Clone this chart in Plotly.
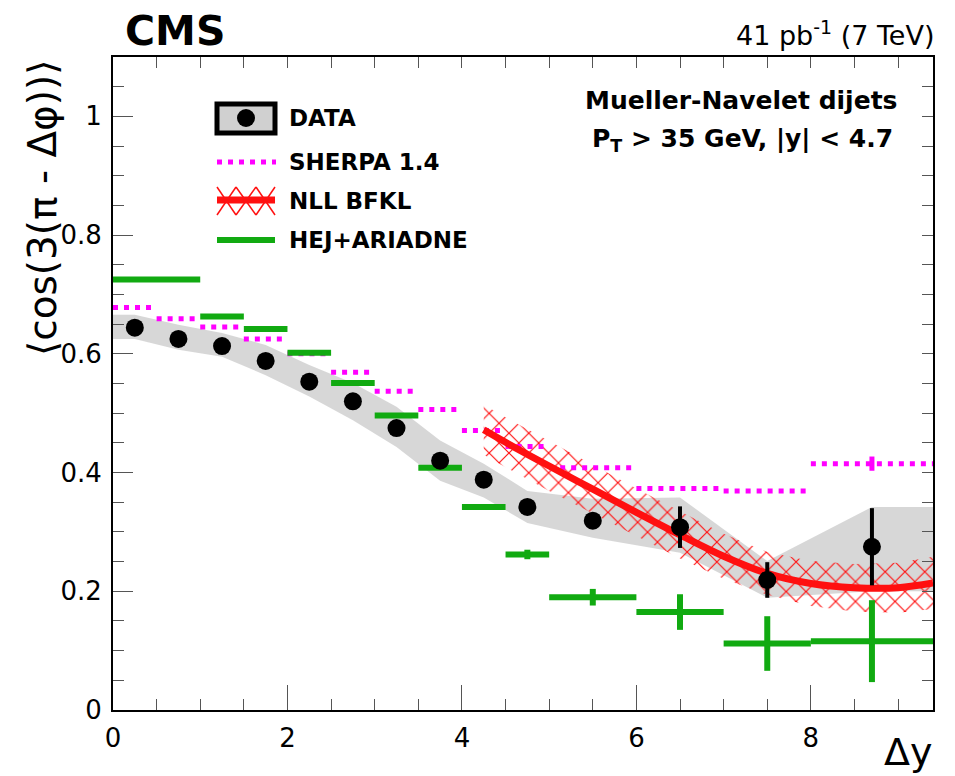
import plotly.graph_objects as go

# ---------------- data ----------------
bin_lo = [0, 0.5, 1, 1.5, 2, 2.5, 3, 3.5, 4, 4.5, 5, 6, 7, 8]
bin_hi = [0.5, 1, 1.5, 2, 2.5, 3, 3.5, 4, 4.5, 5, 6, 7, 8, 9.4]
data_x = [0.25, 0.75, 1.25, 1.75, 2.25, 2.75, 3.25, 3.75, 4.25, 4.75, 5.5, 6.5, 7.5, 8.7]
data_y = [0.644, 0.625, 0.613, 0.588, 0.553, 0.520, 0.475, 0.420, 0.388, 0.342, 0.319, 0.308, 0.219, 0.275]
data_stat = [0.004, 0.004, 0.004, 0.004, 0.004, 0.005, 0.005, 0.006, 0.007, 0.008, 0.010, 0.035, 0.030, 0.065]
data_sys_hi = [0.666, 0.649, 0.635, 0.615, 0.581, 0.551, 0.511, 0.454, 0.415, 0.369, 0.356, 0.358, 0.251, 0.342]
data_sys_lo = [0.625, 0.607, 0.595, 0.564, 0.528, 0.488, 0.443, 0.386, 0.358, 0.315, 0.290, 0.265, 0.189, 0.200]

sherpa_y = [0.678, 0.659, 0.645, 0.625, 0.600, 0.569, 0.537, 0.506, 0.471, 0.444, 0.408, 0.373, 0.369, 0.415]
sherpa_err = [0, 0, 0, 0, 0, 0, 0, 0, 0, 0, 0, 0, 0, 0.012]

hej_lo = [0, 1, 1.5, 2, 2.5, 3, 3.5, 4, 4.5, 5, 6, 7, 8]
hej_hi = [1, 1.5, 2, 2.5, 3, 3.5, 4, 4.5, 5, 6, 7, 8, 9.4]
hej_y = [0.725, 0.663, 0.642, 0.602, 0.551, 0.496, 0.408, 0.342, 0.262, 0.190, 0.165, 0.112, 0.116]
hej_err = [0, 0, 0, 0, 0, 0, 0, 0, 0.008, 0.014, 0.030, 0.046, 0.069]

nll_x = [4.25, 4.5, 5, 5.5, 6, 6.5, 7, 7.5, 8, 8.5, 9, 9.4]
nll_y = [0.472, 0.451, 0.411, 0.372, 0.333, 0.295, 0.259, 0.230, 0.213, 0.206, 0.206, 0.214]
nll_err = [0.042, 0.042, 0.042, 0.041, 0.040, 0.040, 0.038, 0.036, 0.038, 0.040, 0.042, 0.044]

x_range = [0, 9.4]
y_range = [0, 1.1]

FONT = "DejaVu Sans"
MAG = "#ff00ff"
GRN = "#11aa11"
RED = "#ff1010"

fig = go.Figure()

# ---- DATA systematic band (gray) ----
band_x = [bin_lo[0]] + data_x + [bin_hi[-1]]
band_hi = [data_sys_hi[0]] + data_sys_hi + [data_sys_hi[-1]]
band_lo = [data_sys_lo[0]] + data_sys_lo + [data_sys_lo[-1]]
fig.add_trace(go.Scatter(
    x=band_x + band_x[::-1], y=band_hi + band_lo[::-1],
    fill="toself", fillcolor="rgba(208,208,208,0.85)",
    line=dict(width=0), mode="lines", hoverinfo="skip", showlegend=False))

# ---- NLL BFKL hatched band ----
fig.add_trace(go.Scatter(
    x=nll_x + nll_x[::-1],
    y=[v + e for v, e in zip(nll_y, nll_err)] + [v - e for v, e in zip(nll_y, nll_err)][::-1],
    fill="toself", fillcolor=RED, mode="lines", line=dict(width=0),
    fillpattern=dict(shape="x", fgcolor=RED, bgcolor="rgba(0,0,0,0)", fgopacity=1,
                     fillmode="replace", size=14, solidity=0.16),
    hoverinfo="skip", showlegend=False))

# ---- SHERPA (dotted horizontal per bin) ----
sx, sy = [], []
for lo, hi, v in zip(bin_lo, bin_hi, sherpa_y):
    sx += [lo, hi, None]
    sy += [v, v, None]
fig.add_trace(go.Scatter(x=sx, y=sy, mode="lines",
                         line=dict(color=MAG, width=5, dash="5px,6px"),
                         hoverinfo="skip", showlegend=False))
fig.add_trace(go.Scatter(
    x=[(lo + hi) / 2 for lo, hi in zip(bin_lo, bin_hi)], y=sherpa_y, mode="markers",
    marker=dict(size=1, color="rgba(0,0,0,0)"),
    error_y=dict(type="data", array=sherpa_err, color=MAG, thickness=5, width=0),
    hoverinfo="skip", showlegend=False))

# ---- NLL BFKL central line ----
fig.add_trace(go.Scatter(x=nll_x, y=nll_y, mode="lines", line=dict(color=RED, width=7, shape="spline"),
                         hoverinfo="skip", showlegend=False))

# ---- HEJ+ARIADNE ----
fig.add_trace(go.Scatter(
    x=[(lo + hi) / 2 for lo, hi in zip(hej_lo, hej_hi)], y=hej_y, mode="markers",
    marker=dict(size=1, color="rgba(0,0,0,0)"),
    error_x=dict(type="data", array=[(hi - lo) / 2 for lo, hi in zip(hej_lo, hej_hi)],
                 color=GRN, thickness=6, width=0),
    error_y=dict(type="data", array=hej_err, color=GRN, thickness=6, width=0),
    hoverinfo="skip", showlegend=False))

# ---- DATA points ----
fig.add_trace(go.Scatter(
    x=data_x, y=data_y, mode="markers",
    marker=dict(size=18, color="black"),
    error_y=dict(type="data", array=data_stat, color="black", thickness=4, width=0),
    hoverinfo="skip", showlegend=False))

# empty traces so the mirrored tick axes are drawn
fig.add_trace(go.Scatter(x=[], y=[], xaxis="x2", yaxis="y", showlegend=False))
fig.add_trace(go.Scatter(x=[], y=[], xaxis="x", yaxis="y2", showlegend=False))

# ---------------- layout ----------------
OFF = 8                      # page body margin of the html page
FW, FH = 955 - OFF, 776 - OFF
L, R, T, B = 113, 933, 57, 710   # plot frame in page pixels
W, H = R - L, B - T


def px(xp):
    return (xp - L) / W


def py(yp):
    return (B - yp) / H


tickfont = dict(family=FONT, size=26, color="black")
fig.update_layout(
    width=FW, height=FH,
    margin=dict(l=L - OFF, r=FW - (R - OFF), t=T - OFF, b=FH - (B - OFF), pad=0, autoexpand=False),
    paper_bgcolor="white", plot_bgcolor="white",
    showlegend=False,
    xaxis=dict(range=x_range, dtick=2, tick0=0, ticks="inside", ticklen=25, tickwidth=1, tickcolor="#555",
               minor=dict(dtick=0.5, tick0=0, ticks="inside", ticklen=11, tickwidth=1, tickcolor="#555"),
               showline=True, linecolor="black", linewidth=2, mirror=True,
               showgrid=False, zeroline=False, tickfont=tickfont, ticklabelstandoff=4),
    xaxis2=dict(range=x_range, overlaying="x", side="top", anchor="y", dtick=0.5, tick0=0,
                ticks="inside", ticklen=11, tickwidth=1, tickcolor="#555",
                showticklabels=False, showgrid=False, zeroline=False, showline=False),
    yaxis=dict(range=y_range, dtick=0.2, tick0=0, ticks="inside", ticklen=20, tickwidth=1, tickcolor="#555",
               minor=dict(dtick=0.05, tick0=0, ticks="inside", ticklen=11, tickwidth=1, tickcolor="#555"),
               showline=True, linecolor="black", linewidth=2, mirror=True,
               showgrid=False, zeroline=False, tickfont=tickfont, ticklabelstandoff=4),
    yaxis2=dict(range=y_range, overlaying="y", side="right", anchor="x", dtick=0.05, tick0=0,
                ticks="inside", ticklen=11, tickwidth=1, tickcolor="#555",
                showticklabels=False, showgrid=False, zeroline=False, showline=False),
)

ann = []
ann.append(dict(text="<b>CMS</b>", x=px(123), y=py(31), xref="paper", yref="paper",
                xanchor="left", yanchor="middle", showarrow=False,
                font=dict(family=FONT, size=41, color="black")))
ann.append(dict(text="41 pb<sup>-1</sup> (7 TeV)", x=px(936), y=py(34), xref="paper", yref="paper",
                xanchor="right", yanchor="middle", showarrow=False,
                font=dict(family=FONT, size=27, color="black")))
ann.append(dict(text="<b>Mueller-Navelet dijets</b>", x=px(899), y=py(100), xref="paper", yref="paper",
                xanchor="right", yanchor="middle", showarrow=False,
                font=dict(family=FONT, size=25, color="black")))
ann.append(dict(text="<b>P<sub>T</sub> > 35 GeV, |y| < 4.7</b>", x=px(895), y=py(140), xref="paper", yref="paper",
                xanchor="right", yanchor="middle", showarrow=False,
                font=dict(family=FONT, size=25, color="black")))
ann.append(dict(text="⟨cos(3(π - Δφ))⟩", x=px(42), y=py(58), xref="paper", yref="paper",
                xanchor="center", yanchor="top", textangle=-90, showarrow=False,
                font=dict(family=FONT, size=39, color="black")))
ann.append(dict(text="Δy", x=px(934), y=py(752), xref="paper", yref="paper",
                xanchor="right", yanchor="middle", showarrow=False,
                font=dict(family=FONT, size=38, color="black")))

leg_rows = [("DATA", 118), ("SHERPA 1.4", 162), ("NLL BFKL", 201), ("HEJ+ARIADNE", 240)]
for name, yy in leg_rows:
    ann.append(dict(text="<b>%s</b>" % name, x=px(287), y=py(yy), xref="paper", yref="paper",
                    xanchor="left", yanchor="middle", showarrow=False,
                    font=dict(family=FONT, size=23, color="black")))

shapes = []
shapes.append(dict(type="rect", xref="paper", yref="paper", x0=px(217), x1=px(275), y0=py(104), y1=py(133),
                   line=dict(color="black", width=5), fillcolor="rgb(208,208,208)"))
shapes.append(dict(type="circle", xref="paper", yref="paper", x0=px(237), x1=px(255), y0=py(109), y1=py(127),
                   line=dict(color="black", width=0), fillcolor="black"))
shapes.append(dict(type="line", xref="paper", yref="paper", x0=px(217), x1=px(276), y0=py(162), y1=py(162),
                   line=dict(color=MAG, width=5, dash="5px,6px")))
for x0, x1 in [(217, 236), (236, 256), (256, 275)]:
    shapes.append(dict(type="line", xref="paper", yref="paper", x0=px(x0), x1=px(x1), y0=py(187), y1=py(215),
                       line=dict(color=RED, width=1.5)))
    shapes.append(dict(type="line", xref="paper", yref="paper", x0=px(x0), x1=px(x1), y0=py(215), y1=py(187),
                       line=dict(color=RED, width=1.5)))
shapes.append(dict(type="line", xref="paper", yref="paper", x0=px(217), x1=px(275), y0=py(200), y1=py(200),
                   line=dict(color=RED, width=7)))
shapes.append(dict(type="line", xref="paper", yref="paper", x0=px(217), x1=px(275), y0=py(240), y1=py(240),
                   line=dict(color=GRN, width=6)))

fig.update_layout(annotations=ann, shapes=shapes)

fig.write_html("out.html")
